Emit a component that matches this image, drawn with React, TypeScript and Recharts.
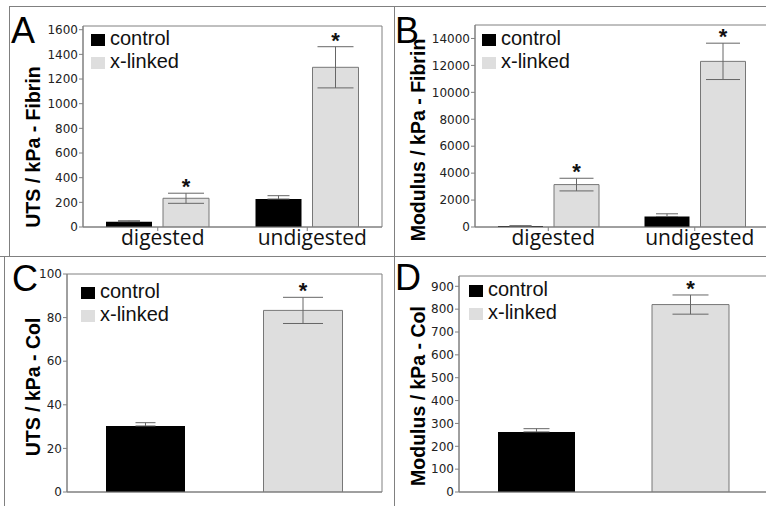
import React from 'react';
import { BarChart, Bar, XAxis, YAxis, ErrorBar, LabelList, Legend, ReferenceArea } from 'recharts';

// ---- data ----
const seriesNames = ['control', 'x-linked'];

const fibrinGroups = ['digested', 'undigested'];
const utsFibrinControl = [43, 227];
const utsFibrinControlSd = [8, 27];
const utsFibrinXlinked = [233, 1295];
const utsFibrinXlinkedSd = [41, 167];
const utsFibrinTicks = [0, 200, 400, 600, 800, 1000, 1200, 1400, 1600];

const modFibrinControl = [75, 780];
const modFibrinControlSd = [15, 200];
const modFibrinXlinked = [3150, 12300];
const modFibrinXlinkedSd = [470, 1350];
const modFibrinTicks = [0, 2000, 4000, 6000, 8000, 10000, 12000, 14000];

const colGroups = ['control', 'x-linked'];
const utsColControl = [30.3, null];
const utsColControlSd = [1.5, null];
const utsColXlinked = [null, 83.3];
const utsColXlinkedSd = [null, 6];
const utsColTicks = [0, 20, 40, 60, 80, 100];

const modColControl = [263, null];
const modColControlSd = [14, null];
const modColXlinked = [null, 820];
const modColXlinkedSd = [null, 42];
const modColTicks = [0, 100, 200, 300, 400, 500, 600, 700, 800, 900];

const CONTROL = '#000000';
const XLINKED = '#dedede';
const LINE = '#808080';
const ERR = '#666';

const tickFont = { fontFamily: '"DejaVu Sans", Verdana, sans-serif', fontSize: 12, fill: '#222' };
const sans = '"Liberation Sans", Arial, Helvetica, sans-serif';

// control error bars only show above the black bar, so they are one-sided
function rows(cats: string[], c: any[], cSd: any[], x: any[], xSd: any[]) {
  return cats.map((name, i) => ({
    name,
    control: c[i],
    controlSd: cSd[i] == null ? null : [0, cSd[i]],
    xlinked: x[i],
    xlinkedSd: xSd[i],
  }));
}

// asterisk just above the upper error cap of each x-linked bar
function star(values: any[], sds: any[]) {
  return (props: any) => {
    let v = props.value;
    if (Array.isArray(v)) v = v[v.length - 1];
    if (v == null || !props.height) return null;
    const i = values.indexOf(v);
    const sd = sds[i] ?? 0;
    const y = Number(props.y), h = Number(props.height);
    const capY = y + h - (h * (v + sd)) / v;
    return (
      <text x={Number(props.x) + Number(props.width) / 2} y={capY + 1} textAnchor="middle"
        style={{ fontFamily: sans, fontSize: 22, fontWeight: 'bold', fill: '#111' }}>*</text>
    );
  };
}

function yTitle(text: string, bx: number, cy: number) {
  return () => (
    <text x={bx} y={cy} transform={`rotate(-90 ${bx} ${cy})`} textAnchor="middle"
      style={{ fontFamily: sans, fontSize: 19.5, fontWeight: 'bold', fill: '#000' }}>{text}</text>
  );
}

const categoryTick = (props: any) => (
  <text x={props.x + 5} y={props.y + 12} textAnchor="middle"
    style={{ fontFamily: '"Open Sans", sans-serif', fontSize: 21, fill: '#111' }}>{props.payload.value}</text>
);

const legendColors = [CONTROL, XLINKED];
const LegendBox = () => (
  <div style={{ fontFamily: sans, fontSize: 20, lineHeight: '23px', color: '#111' }}>
    {seriesNames.map((n, i) => (
      <div key={n} style={{ display: 'flex', alignItems: 'center', height: 23, whiteSpace: 'nowrap' }}>
        <span style={{ display: 'inline-block', width: 14, height: 12, background: legendColors[i], marginRight: 5, position: 'relative', top: 2 }} />
        <span>{n}</span>
      </div>
    ))}
  </div>
);

type PanelProps = {
  left: number; top: number; width: number; height: number;
  margin: { top: number; right: number; bottom: number; left: number };
  yWidth: number; xHeight: number;
  data: any[]; domain: [number, number]; ticks: number[];
  title: string; titleX: number; titleY: number;
  stacked: boolean; barSize: number; barGap: number;
  capC: number; capX: number; labels: boolean;
  legendLeft: number; legendTop: number;
  xlValues: any[]; xlSds: any[];
};

function Panel(p: PanelProps) {
  const stackId = p.stacked ? 's' : undefined;
  return (
    <div style={{ position: 'absolute', left: p.left, top: p.top }}>
      <BarChart width={p.width} height={p.height} data={p.data} margin={p.margin}
        barSize={p.barSize} barGap={p.barGap}>
        <ReferenceArea y1={p.domain[0]} y2={p.domain[1]} fill="none" stroke={LINE} strokeWidth={1} ifOverflow="visible" />
        <XAxis dataKey="name" height={p.xHeight} interval={0} tickSize={4}
          axisLine={{ stroke: LINE }} tickLine={{ stroke: LINE }}
          tick={p.labels ? categoryTick : false} />
        <YAxis width={p.yWidth} domain={p.domain} ticks={p.ticks} allowDataOverflow
          interval={0} tickSize={4} tickMargin={1} tick={tickFont}
          axisLine={{ stroke: LINE }} tickLine={{ stroke: LINE }}
          label={yTitle(p.title, p.titleX, p.titleY)} />
        <Legend layout="vertical" align="center" verticalAlign="middle" content={LegendBox}
          wrapperStyle={{ left: p.legendLeft, top: p.legendTop, width: 'auto', height: 'auto' }} />
        <Bar dataKey="control" name="control" fill={CONTROL} stackId={stackId} isAnimationActive={false}>
          <ErrorBar dataKey="controlSd" width={p.capC} stroke={ERR} strokeWidth={1} direction="y" isAnimationActive={false} />
        </Bar>
        <Bar dataKey="xlinked" name="x-linked" fill={XLINKED} stroke="#777" strokeWidth={1} stackId={stackId} isAnimationActive={false}>
          <ErrorBar dataKey="xlinkedSd" width={p.capX} stroke={ERR} strokeWidth={1} direction="y" isAnimationActive={false} />
          <LabelList dataKey="xlinked" content={star(p.xlValues, p.xlSds)} />
        </Bar>
      </BarChart>
    </div>
  );
}

export default function App() {
  const letter = { fontFamily: sans, fontSize: 36, fill: '#000' } as const;
  return (
    <div style={{ position: 'absolute', left: 0, top: 0, width: 766, height: 506, overflow: 'hidden', background: '#fff' }}>
      <Panel left={0} top={0} width={383} height={256} margin={{ top: 26, right: 1, bottom: 0, left: 0 }}
        yWidth={83} xHeight={29} domain={[0, 1630]} ticks={utsFibrinTicks}
        data={rows(fibrinGroups, utsFibrinControl, utsFibrinControlSd, utsFibrinXlinked, utsFibrinXlinkedSd)}
        title="UTS / kPa - Fibrin" titleX={40} titleY={147}
        stacked={false} barSize={46} barGap={11} capC={11} capX={18} labels
        legendLeft={91} legendTop={26.5} xlValues={utsFibrinXlinked} xlSds={utsFibrinXlinkedSd} />
      <Panel left={394} top={0} width={374} height={256} margin={{ top: 25, right: 0, bottom: 0, left: 0 }}
        yWidth={81} xHeight={29} domain={[0, 15000]} ticks={modFibrinTicks}
        data={rows(fibrinGroups, modFibrinControl, modFibrinControlSd, modFibrinXlinked, modFibrinXlinkedSd)}
        title="Modulus / kPa - Fibrin" titleX={31} titleY={140}
        stacked={false} barSize={45} barGap={11} capC={11} capX={17} labels
        legendLeft={88} legendTop={26.5} xlValues={modFibrinXlinked} xlSds={modFibrinXlinkedSd} />
      <Panel left={0} top={257} width={383} height={249} margin={{ top: 17, right: 1, bottom: 0, left: 0 }}
        yWidth={67} xHeight={14} domain={[0, 100]} ticks={utsColTicks}
        data={rows(colGroups, utsColControl, utsColControlSd, utsColXlinked, utsColXlinkedSd)}
        title="UTS / kPa - Col" titleX={40} titleY={130}
        stacked barSize={79} barGap={0} capC={10} capX={20} labels={false}
        legendLeft={81} legendTop={22.5} xlValues={utsColXlinked} xlSds={utsColXlinkedSd} />
      <Panel left={394} top={257} width={373} height={249} margin={{ top: 19, right: 0, bottom: 0, left: 0 }}
        yWidth={65} xHeight={14} domain={[0, 945]} ticks={modColTicks}
        data={rows(colGroups, modColControl, modColControlSd, modColXlinked, modColXlinkedSd)}
        title="Modulus / kPa - Col" titleX={31} titleY={139}
        stacked barSize={77} barGap={0} capC={13} capX={18} labels={false}
        legendLeft={75} legendTop={20.5} xlValues={modColXlinked} xlSds={modColXlinkedSd} />
      <svg width={766} height={506} style={{ position: 'absolute', left: 0, top: 0, pointerEvents: 'none' }}>
        <g stroke={LINE} strokeWidth={1}>
          <line x1={9} y1={6.5} x2={766} y2={6.5} />
          <line x1={9.5} y1={6} x2={9.5} y2={256} />
          <line x1={0} y1={256.5} x2={766} y2={256.5} />
          <line x1={394.5} y1={6} x2={394.5} y2={506} />
          <line x1={4.5} y1={256} x2={4.5} y2={506} />
        </g>
        <text x={11} y={43} style={letter}>A</text>
        <text x={395} y={43} style={letter}>B</text>
        <text x={12} y={291} style={letter}>C</text>
        <text x={395} y={290} style={letter}>D</text>
      </svg>
    </div>
  );
}
